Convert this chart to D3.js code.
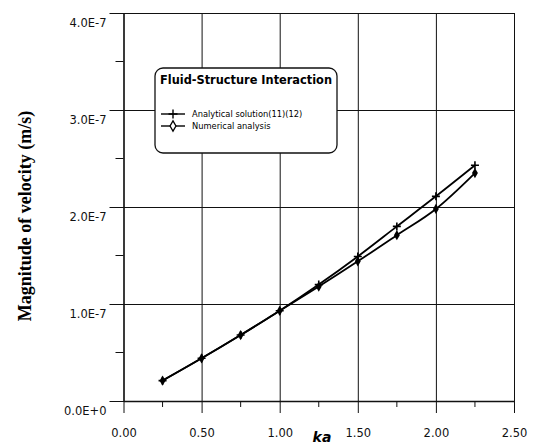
<!DOCTYPE html>
<html>
<head>
<meta charset="utf-8">
<script src="https://cdn.jsdelivr.net/npm/d3@7"></script>
<style>
  body { margin: 0; background: #fff; }
  svg { display: block; }
  .tick text { font-family: "DejaVu Sans", sans-serif; font-size: 11.5px; fill: #111; }
</style>
</head>
<body>
<div id="chart"></div>
<script>
// ka values and velocity magnitudes (m/s)
var ka = [0.25, 0.50, 0.75, 1.00, 1.25, 1.50, 1.75, 2.00, 2.25];
var analytical = [0.21e-7, 0.44e-7, 0.68e-7, 0.93e-7, 1.20e-7, 1.49e-7, 1.80e-7, 2.11e-7, 2.43e-7];
var numerical = [0.21e-7, 0.44e-7, 0.68e-7, 0.93e-7, 1.18e-7, 1.44e-7, 1.71e-7, 1.98e-7, 2.35e-7];
var xTicks = [0, 0.5, 1.0, 1.5, 2.0, 2.5];
var xMinor = [0.25, 0.75, 1.25, 1.75, 2.25];
var yTicks = [0, 1e-7, 2e-7, 3e-7, 4e-7];
var yMinor = [0.5e-7, 1.5e-7, 2.5e-7, 3.5e-7];
var seriesNames = ["Analytical solution(11)(12)", "Numerical analysis"];
var legendTitle = "Fluid-Structure Interaction";

var W = 537, H = 448;
// note: "top" is taken by window.top, so plot* names
var plotLeft = 123.5, plotRight = 514, plotTop = 13, plotBottom = 401;

var svg = d3.select("#chart").append("svg")
    .attr("width", W)
    .attr("height", H);

var x = d3.scaleLinear().domain([0, 2.5]).range([plotLeft, plotRight]);
var y = d3.scaleLinear().domain([0, 4e-7]).range([plotBottom, plotTop]);

function yfmt(d) {
    if (d === 0) { return "0.0E+0"; }
    return (d * 1e7).toFixed(1) + "E-7";
}

// x axis + vertical grid
var gx = svg.append("g")
    .attr("transform", "translate(0," + plotBottom + ")")
    .call(d3.axisBottom(x)
        .tickValues(xTicks)
        .tickSizeInner(-(plotBottom - plotTop))
        .tickSizeOuter(0)
        .tickPadding(28)
        .tickFormat(d3.format(".2f")));
gx.select(".domain").attr("stroke", "#111").attr("stroke-width", 1.3);
gx.selectAll(".tick line").attr("stroke", "#111").attr("stroke-width", 1).attr("y1", 12);

// y axis + horizontal grid
var gy = svg.append("g")
    .attr("transform", "translate(" + plotLeft + ",0)")
    .call(d3.axisLeft(y)
        .tickValues(yTicks)
        .tickSizeInner(-(plotRight - plotLeft))
        .tickSizeOuter(0)
        .tickPadding(17)
        .tickFormat(yfmt));
gy.select(".domain").attr("stroke", "#111").attr("stroke-width", 1.3);
gy.selectAll(".tick line").attr("stroke", "#111").attr("stroke-width", 1).attr("x1", -14);
gy.selectAll(".tick text").attr("y", 10);

// minor ticks
svg.append("g").selectAll("line")
    .data(xMinor)
  .enter().append("line")
    .attr("x1", function(d) { return x(d); })
    .attr("x2", function(d) { return x(d); })
    .attr("y1", plotBottom)
    .attr("y2", plotBottom + 6)
    .attr("stroke", "#111");
svg.append("g").selectAll("line")
    .data(yMinor)
  .enter().append("line")
    .attr("x1", plotLeft - 8)
    .attr("x2", plotLeft)
    .attr("y1", function(d) { return y(d); })
    .attr("y2", function(d) { return y(d); })
    .attr("stroke", "#111");

// series
var line = d3.line()
    .curve(d3.curveMonotoneX)
    .x(function(d) { return x(d[0]); })
    .y(function(d) { return y(d[1]); });

var anaPts = d3.zip(ka, analytical);
var numPts = d3.zip(ka, numerical);

svg.append("path")
    .datum(anaPts)
    .attr("d", line)
    .attr("fill", "none")
    .attr("stroke", "#000")
    .attr("stroke-width", 1.8);
svg.append("path")
    .datum(numPts)
    .attr("d", line)
    .attr("fill", "none")
    .attr("stroke", "#000")
    .attr("stroke-width", 1.8);

function plusPath(s) {
    return "M" + (-s) + ",0L" + s + ",0M0," + (-s) + "L0," + s;
}
svg.append("g").selectAll("path")
    .data(anaPts)
  .enter().append("path")
    .attr("transform", function(d) { return "translate(" + x(d[0]) + "," + y(d[1]) + ")"; })
    .attr("d", plusPath(4))
    .attr("stroke", "#000")
    .attr("stroke-width", 1.6);

var diamond = d3.symbol().type(d3.symbolDiamond).size(30);
svg.append("g").selectAll("path")
    .data(numPts)
  .enter().append("path")
    .attr("transform", function(d) { return "translate(" + x(d[0]) + "," + y(d[1]) + ")"; })
    .attr("d", diamond)
    .attr("fill", "#000");

// legend
var lg = svg.append("g").attr("transform", "translate(155,68)");
lg.append("rect")
    .attr("width", 182)
    .attr("height", 85)
    .attr("rx", 8)
    .attr("ry", 8)
    .attr("fill", "#fff")
    .attr("stroke", "#111")
    .attr("stroke-width", 1.3);
lg.append("text")
    .attr("x", 5)
    .attr("y", 16)
    .attr("font-family", "DejaVu Sans, sans-serif")
    .attr("font-weight", "bold")
    .attr("font-size", 11.5)
    .attr("textLength", 172)
    .attr("lengthAdjust", "spacingAndGlyphs")
    .text(legendTitle);

var entries = lg.selectAll("g.entry")
    .data(seriesNames)
  .enter().append("g")
    .attr("class", "entry")
    .attr("transform", function(d, i) { return "translate(0," + (46 + i * 12) + ")"; });
entries.append("line")
    .attr("x1", 6).attr("x2", 30)
    .attr("stroke", "#000").attr("stroke-width", 1.4);
entries.filter(function(d, i) { return i === 0; }).append("path")
    .attr("transform", "translate(18,0)")
    .attr("d", plusPath(4.5))
    .attr("stroke", "#000").attr("stroke-width", 1.4);
entries.filter(function(d, i) { return i === 1; }).append("path")
    .attr("transform", "translate(18,0)")
    .attr("d", diamond)
    .attr("fill", "#fff").attr("stroke", "#000").attr("stroke-width", 1.3);
entries.append("text")
    .attr("x", 37)
    .attr("y", 3)
    .attr("font-family", "DejaVu Sans, sans-serif")
    .attr("font-size", 8.3)
    .text(function(d) { return d; });

// axis titles
svg.append("text")
    .attr("transform", "translate(31,216) rotate(-90)")
    .attr("text-anchor", "middle")
    .attr("font-family", "Liberation Serif, serif")
    .attr("font-weight", "bold")
    .attr("font-size", 18)
    .text("Magnitude of velocity (m/s)");

svg.append("text")
    .attr("x", 322)
    .attr("y", 442)
    .attr("text-anchor", "middle")
    .attr("font-family", "DejaVu Sans, sans-serif")
    .attr("font-weight", "bold")
    .attr("font-style", "italic")
    .attr("font-size", 14)
    .text("ka");
</script>
</body>
</html>
